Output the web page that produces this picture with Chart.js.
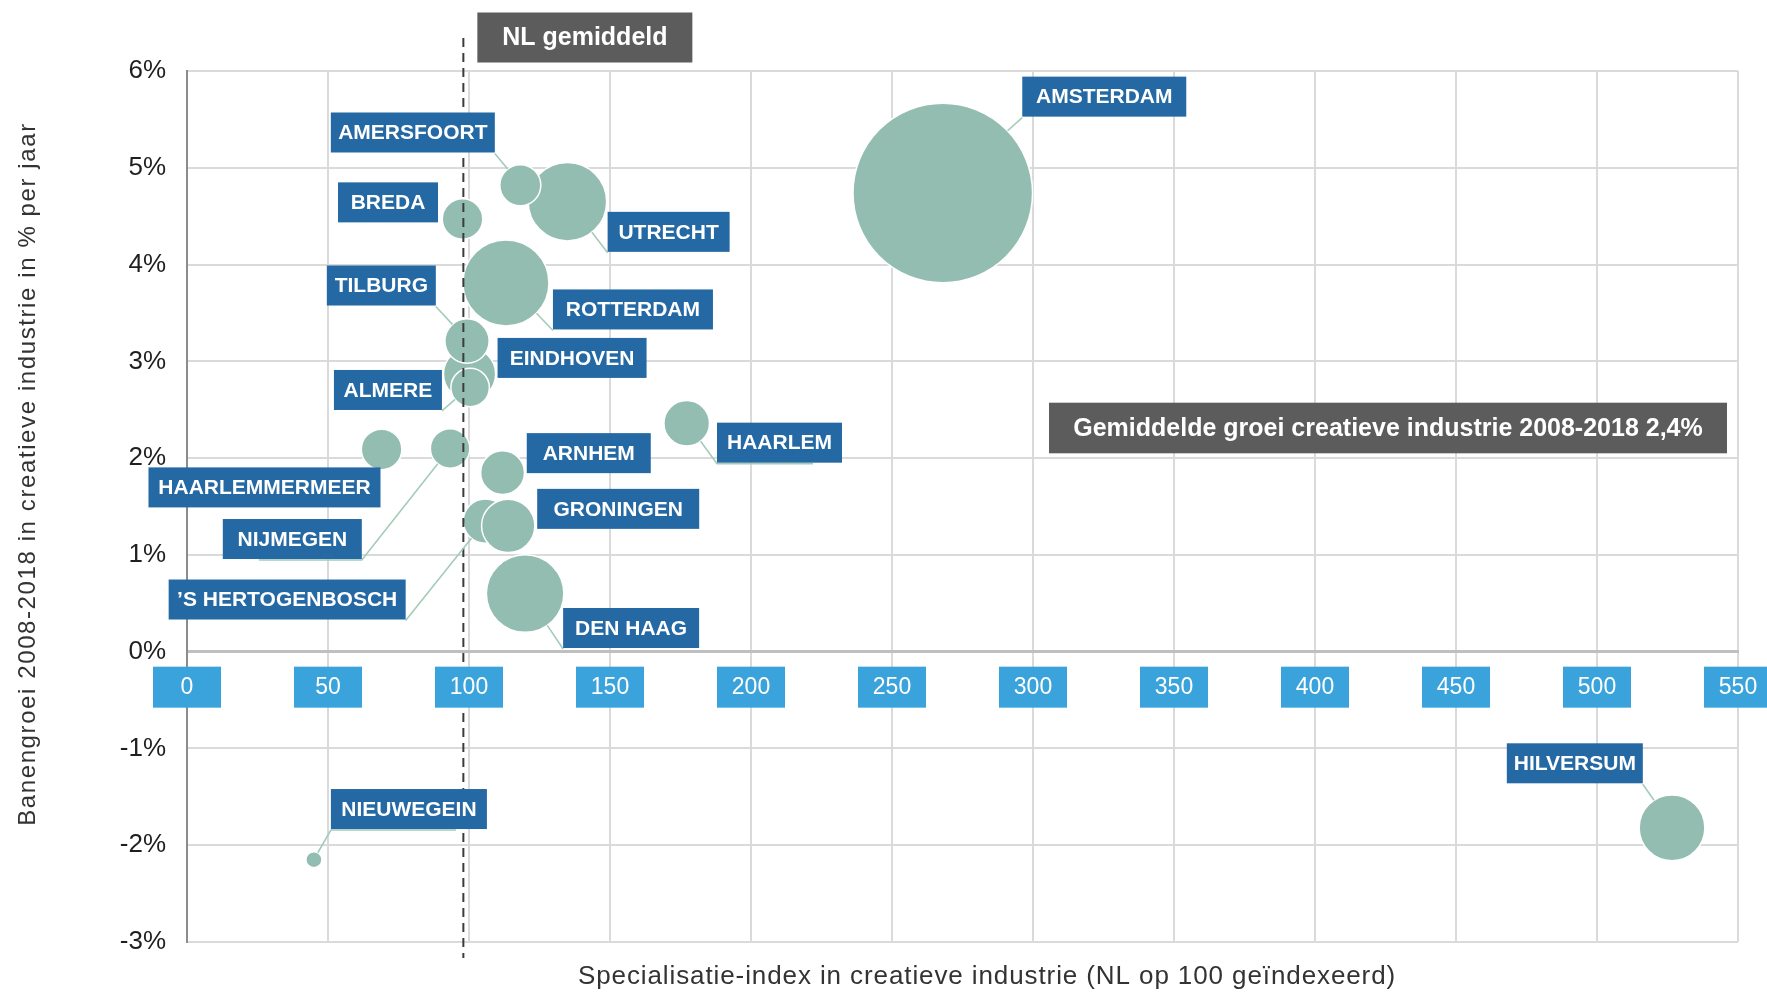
<!DOCTYPE html>
<html lang="nl">
<head>
<meta charset="utf-8">
<title>Creatieve industrie: specialisatie en banengroei 2008-2018</title>
<script src="https://cdn.jsdelivr.net/npm/chart.js@4.4.1/dist/chart.umd.min.js"></script>
<style>
    html, body { margin: 0; padding: 0; background: #fff; }
    #wrap { width: 1767px; height: 994px; position: relative; }
</style>
</head>
<body>
<div id="wrap"><canvas id="bubbleChart"></canvas></div>
<script>
// Gemeenten, in tekenvolgorde (latere bubbels liggen bovenop)
const gemeenten = ['Amsterdam', 'Rotterdam', 'Den Haag', 'Utrecht', 'Eindhoven', 'Hilversum',
    '\'s-Hertogenbosch', 'Groningen', 'Haarlem', 'Tilburg', 'Arnhem', 'Amersfoort',
    'Breda', 'Haarlemmermeer', 'Nijmegen', 'Almere', 'Nieuwegein'];
const labelTeksten = ['AMSTERDAM', 'ROTTERDAM', 'DEN HAAG', 'UTRECHT', 'EINDHOVEN', 'HILVERSUM',
    '\u2019S HERTOGENBOSCH', 'GRONINGEN', 'HAARLEM', 'TILBURG', 'ARNHEM', 'AMERSFOORT',
    'BREDA', 'HAARLEMMERMEER', 'NIJMEGEN', 'ALMERE', 'NIEUWEGEIN'];

// Specialisatie-index (NL = 100)
const specialisatie = [268.0, 113.1, 119.9, 134.9, 100.2, 526.6, 105.8, 113.9, 177.2, 99.3, 111.9, 118.2,
    97.7, 69.0, 93.3, 100.4, 45.0];
// Banengroei 2008-2018, % per jaar
const banengroei = [4.74, 3.81, 0.60, 4.65, 2.87, -1.82, 1.35, 1.30, 2.36, 3.21, 1.85, 4.82,
    4.47, 2.09, 2.10, 2.73, -2.15];
// Omvang creatieve industrie (relatief, bepaalt bubbeloppervlak)
const omvang = [80.6, 18.5, 15.0, 15.4, 6.8, 10.8, 4.9, 7.1, 5.2, 4.9, 4.8, 4.2,
    4.1, 4.1, 3.9, 3.7, 0.64];

const nlGemiddeld = 98;
const gemiddeldeGroei = '2,4%';

// Plaats van de labels t.o.v. het bubbelmidden:
// [dx, dy, breedte, hoek van de verbindingslijn, stukje lijn langs de onderrand]
const labelPlaatsing = {
    'Amsterdam': [79.5, -116.3, 164, 'bl', 0],
    'Rotterdam': [47, 6.5, 160, 'bl', 0],
    'Den Haag': [38, 14.4, 136, 'bl', 0],
    'Utrecht': [40.2, 10.2, 122, 'bl', 0],
    'Eindhoven': [28, -36, 149, null, 0],
    'Hilversum': [-165.2, -84.5, 136, 'br', 0],
    '\'s-Hertogenbosch': [-316.7, 58.5, 237, 'br', 0],
    'Groningen': [29, -37, 162, null, 0],
    'Haarlem': [30.3, -0.6, 125, 'bl', 96],
    'Tilburg': [-140.2, -75.5, 109, 'br', 0],
    'Arnhem': [24.2, -39.5, 124, null, 0],
    'Amersfoort': [-189.5, -72.7, 164, 'br', 0],
    'Breda': [-124.5, -36.7, 100, null, 0],
    'Haarlemmermeer': [-233.1, 18, 232, null, 0],
    'Nijmegen': [-227.3, 70.6, 139, 'br', -103],
    'Almere': [-136.2, -17.5, 108, 'br', 0],
    'Nieuwegein': [17, -70.7, 156, 'bl', 125]
};

const FONT = 'Liberation Sans';
Chart.defaults.font.family = FONT;

function grijsVak(ctx, x, y, w, h, tekst, size) {
    ctx.fillStyle = '#5c5c5c';
    ctx.fillRect(x, y, w, h);
    ctx.fillStyle = '#ffffff';
    ctx.font = `bold ${size}px "${FONT}"`;
    ctx.textAlign = 'center';
    ctx.textBaseline = 'middle';
    ctx.fillText(tekst, x + w / 2, y + h / 2 + 1);
}

const annotaties = {
    id: 'annotaties',
    afterDatasetsDraw(chart) {
        const ctx = chart.ctx;
        const xs = chart.scales.x;
        const ys = chart.scales.y;
        const meta = chart.getDatasetMeta(0);
        const xNL = xs.getPixelForValue(nlGemiddeld);

        ctx.save();

        // NL gemiddeld - stippellijn
        ctx.strokeStyle = '#3c3c3c';
        ctx.lineWidth = 2;
        ctx.setLineDash([9, 6]);
        ctx.beginPath();
        ctx.moveTo(xNL, 38);
        ctx.lineTo(xNL, 958);
        ctx.stroke();
        ctx.setLineDash([]);

        // verbindingslijnen + labels
        gemeenten.forEach((g, i) => {
            const el = meta.data[i];
            const [dx, dy, w, hoek, staart] = labelPlaatsing[g];
            const bx = el.x + dx, by = el.y + dy, bh = 40;
            if (hoek) {
                const ax = hoek === 'bl' ? bx : bx + w;
                const ay = by + bh;
                const vx = ax - el.x, vy = ay - el.y;
                const len = Math.hypot(vx, vy);
                const r = el.options.radius;
                ctx.strokeStyle = '#a3ccb8';
                ctx.lineWidth = 1.6;
                ctx.beginPath();
                ctx.moveTo(el.x + vx / len * r, el.y + vy / len * r);
                ctx.lineTo(ax, ay + 1);
                if (staart) ctx.lineTo(ax + staart, ay + 1);
                ctx.stroke();
            }
            ctx.fillStyle = '#2468a4';
            ctx.fillRect(bx, by, w, bh);
            ctx.fillStyle = '#ffffff';
            ctx.font = `bold 21px "${FONT}"`;
            ctx.textAlign = 'center';
            ctx.textBaseline = 'middle';
            ctx.fillText(labelTeksten[i], bx + w / 2, by + bh / 2 + 1);
        });

        // x-as labels in blauwe vakjes onder de 0%-lijn
        const y0 = ys.getPixelForValue(0);
        xs.ticks.forEach(t => {
            const cx = xs.getPixelForValue(t.value);
            ctx.fillStyle = '#3aa3dc';
            ctx.fillRect(cx - 34, y0 + 15, 68, 41);
            ctx.fillStyle = '#ffffff';
            ctx.font = `23px "${FONT}"`;
            ctx.textAlign = 'center';
            ctx.textBaseline = 'middle';
            ctx.fillText(String(t.value), cx, y0 + 36);
        });

        // grijze tekstvakken
        grijsVak(ctx, xNL + 14, 12.5, 215, 50, 'NL gemiddeld', 25);
        grijsVak(ctx, chart.chartArea.right - 689, 402.7, 678, 50.6,
            'Gemiddelde groei creatieve industrie 2008-2018 ' + gemiddeldeGroei, 25);

        // astitels
        ctx.fillStyle = '#333333';
        ctx.textAlign = 'center';
        ctx.textBaseline = 'middle';
        ctx.font = `26px "${FONT}"`;
        ctx.letterSpacing = '0.9px';
        ctx.fillText('Specialisatie-index in creatieve industrie (NL op 100 ge\u00efndexeerd)', 987, 977);

        ctx.translate(28, 474);
        ctx.rotate(-Math.PI / 2);
        ctx.font = `24px "${FONT}"`;
        ctx.letterSpacing = '1.6px';
        ctx.fillText('Banengroei 2008-2018 in creatieve industrie in % per jaar', 0, 0);

        ctx.restore();
    }
};

new Chart(document.getElementById('bubbleChart'), {
    type: 'bubble',
    data: {
        datasets: [{
            label: 'Gemeenten',
            data: gemeenten.map((g, i) => ({
                x: specialisatie[i],
                y: banengroei[i],
                r: Math.sqrt(omvang[i]) * 10
            })),
            backgroundColor: '#93bdb0',
            borderColor: '#ffffff',
            borderWidth: 1.5
        }]
    },
    options: {
        responsive: true,
        maintainAspectRatio: false,
        animation: false,
        events: [],
        layout: {
            autoPadding: false,
            padding: { top: 71, right: 29, bottom: 52, left: 0 }
        },
        plugins: {
            legend: { display: false },
            tooltip: { enabled: false }
        },
        scales: {
            x: {
                type: 'linear',
                position: { y: 0 },
                min: 0,
                max: 550,
                ticks: { stepSize: 50, display: false },
                grid: {
                    drawTicks: false,
                    color: c => (c.tick && c.tick.value === 0) ? '#8c8c8c' : '#dadada',
                    lineWidth: 2
                },
                border: { color: '#bfbfbf', width: 3 }
            },
            y: {
                type: 'linear',
                min: -3,
                max: 6,
                afterFit(scale) { scale.width = 187; },
                ticks: {
                    stepSize: 1,
                    padding: 21,
                    color: '#1f1f1f',
                    font: { size: 26 },
                    callback: v => v + '%'
                },
                grid: {
                    drawTicks: false,
                    color: c => (c.tick && c.tick.value === 0) ? '#bfbfbf' : '#dadada',
                    lineWidth: c => (c.tick && c.tick.value === 0) ? 3 : 2
                },
                border: { color: '#8c8c8c', width: 2 }
            }
        }
    },
    plugins: [annotaties]
});
</script>
</body>
</html>
